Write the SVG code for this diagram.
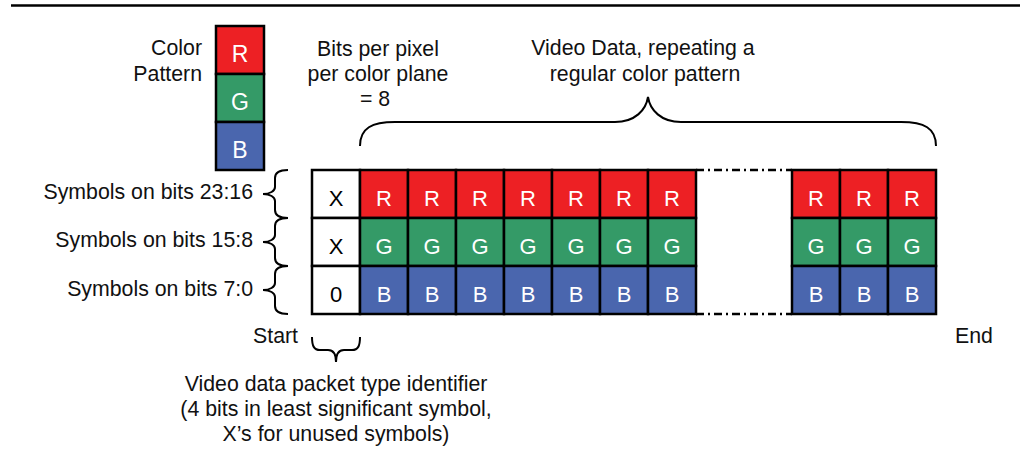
<svg xmlns="http://www.w3.org/2000/svg" width="1020" height="461" viewBox="0 0 1020 461">
<style>
text{font-family:"Liberation Sans",Arial,sans-serif;font-size:21.3px;fill:#111}
.c{stroke:#000;stroke-width:2.5}
.r{fill:#ED2024}
.g{fill:#349A67}
.b{fill:#4A66AE}
.w{fill:#fff}
.lt{fill:#fff;text-anchor:middle;font-size:22px}
.lg{font-size:23px}
.bt{fill:#000;text-anchor:middle;font-size:22px}
.mid{text-anchor:middle}
.end{text-anchor:end}
.br{fill:none;stroke:#000;stroke-width:2}
.dd{fill:none;stroke:#000;stroke-width:2.5;stroke-dasharray:8,4,2,4}
</style>
<line x1="11" y1="5.5" x2="1020" y2="5.5" stroke="#000" stroke-width="2.5"/>
<g id="legend">
<text class="end" x="202" y="55">Color</text>
<text class="end" x="202" y="81">Pattern</text>
<rect class="c r" x="216" y="26" width="48" height="48"/>
<rect class="c g" x="216" y="74" width="48" height="48"/>
<rect class="c b" x="216" y="122" width="48" height="48"/>
<text class="lt lg" x="240" y="62">R</text>
<text class="lt lg" x="240" y="110">G</text>
<text class="lt lg" x="240" y="158">B</text>
</g>
<g id="bpp-label">
<text class="mid" x="378" y="56">Bits per pixel</text>
<text class="mid" x="378" y="81">per color plane</text>
<text class="mid" x="375" y="106">= 8</text>
</g>
<g id="video-label">
<text class="mid" x="643" y="55">Video Data, repeating a</text>
<text class="mid" x="645" y="81">regular color pattern</text>
</g>
<g id="row-labels">
<text class="end" x="253" y="199">Symbols on bits 23:16</text>
<text class="end" x="253" y="247">Symbols on bits 15:8</text>
<text class="end" x="253" y="296">Symbols on bits 7:0</text>
</g>
<g id="start-end">
<text class="end" x="298" y="343">Start</text>
<text x="955" y="343">End</text>
</g>
<g id="id-label">
<text class="mid" x="336" y="391">Video data packet type identifier</text>
<text class="mid" x="336" y="416">(4 bits in least significant symbol,</text>
<text class="mid" x="336" y="441">X’s for unused symbols)</text>
</g>
<g id="header-column">
<rect class="c w" x="312" y="170" width="48" height="48"/>
<rect class="c w" x="312" y="218" width="48" height="48"/>
<rect class="c w" x="312" y="266" width="48" height="48"/>
<text class="bt" x="336" y="206">X</text>
<text class="bt" x="336" y="254">X</text>
<text class="bt" x="336" y="302">0</text>
</g>
<g id="pixels-left">
<rect class="c r" x="360" y="170" width="48" height="48"/><rect class="c g" x="360" y="218" width="48" height="48"/><rect class="c b" x="360" y="266" width="48" height="48"/>
<rect class="c r" x="408" y="170" width="48" height="48"/><rect class="c g" x="408" y="218" width="48" height="48"/><rect class="c b" x="408" y="266" width="48" height="48"/>
<rect class="c r" x="456" y="170" width="48" height="48"/><rect class="c g" x="456" y="218" width="48" height="48"/><rect class="c b" x="456" y="266" width="48" height="48"/>
<rect class="c r" x="504" y="170" width="48" height="48"/><rect class="c g" x="504" y="218" width="48" height="48"/><rect class="c b" x="504" y="266" width="48" height="48"/>
<rect class="c r" x="552" y="170" width="48" height="48"/><rect class="c g" x="552" y="218" width="48" height="48"/><rect class="c b" x="552" y="266" width="48" height="48"/>
<rect class="c r" x="600" y="170" width="48" height="48"/><rect class="c g" x="600" y="218" width="48" height="48"/><rect class="c b" x="600" y="266" width="48" height="48"/>
<rect class="c r" x="648" y="170" width="48" height="48"/><rect class="c g" x="648" y="218" width="48" height="48"/><rect class="c b" x="648" y="266" width="48" height="48"/>
<text class="lt" x="384" y="206">R</text><text class="lt" x="432" y="206">R</text><text class="lt" x="480" y="206">R</text><text class="lt" x="528" y="206">R</text><text class="lt" x="576" y="206">R</text><text class="lt" x="624" y="206">R</text><text class="lt" x="672" y="206">R</text>
<text class="lt" x="384" y="254">G</text><text class="lt" x="432" y="254">G</text><text class="lt" x="480" y="254">G</text><text class="lt" x="528" y="254">G</text><text class="lt" x="576" y="254">G</text><text class="lt" x="624" y="254">G</text><text class="lt" x="672" y="254">G</text>
<text class="lt" x="384" y="302">B</text><text class="lt" x="432" y="302">B</text><text class="lt" x="480" y="302">B</text><text class="lt" x="528" y="302">B</text><text class="lt" x="576" y="302">B</text><text class="lt" x="624" y="302">B</text><text class="lt" x="672" y="302">B</text>
</g>
<g id="pixels-right">
<rect class="c r" x="792" y="170" width="48" height="48"/><rect class="c g" x="792" y="218" width="48" height="48"/><rect class="c b" x="792" y="266" width="48" height="48"/>
<rect class="c r" x="840" y="170" width="48" height="48"/><rect class="c g" x="840" y="218" width="48" height="48"/><rect class="c b" x="840" y="266" width="48" height="48"/>
<rect class="c r" x="888" y="170" width="48" height="48"/><rect class="c g" x="888" y="218" width="48" height="48"/><rect class="c b" x="888" y="266" width="48" height="48"/>
<text class="lt" x="816" y="206">R</text><text class="lt" x="864" y="206">R</text><text class="lt" x="912" y="206">R</text>
<text class="lt" x="816" y="254">G</text><text class="lt" x="864" y="254">G</text><text class="lt" x="912" y="254">G</text>
<text class="lt" x="816" y="302">B</text><text class="lt" x="864" y="302">B</text><text class="lt" x="912" y="302">B</text>
</g>
<g id="connectors">
<line class="dd" x1="696" y1="170" x2="792" y2="170"/>
<line class="dd" x1="696" y1="314" x2="792" y2="314"/>
<path class="br" d="M288,170 C280,170 275,172 275,178 L275,187 C275,191 270,194 263,194 C270,194 275,197 275,201 L275,210 C275,216 280,218 288,218"/>
<path class="br" d="M288,218 C280,218 275,220 275,226 L275,235 C275,239 270,242 263,242 C270,242 275,245 275,249 L275,258 C275,264 280,266 288,266"/>
<path class="br" d="M288,266 C280,266 275,268 275,274 L275,283 C275,287 270,290 263,290 C270,290 275,293 275,297 L275,306 C275,312 280,314 288,314"/>
<path class="br" d="M360,146 C360,128 372,122 395,122 L615,122 C635,122 646,110 648,97 C650,110 661,122 681,122 L901,122 C924,122 936,128 936,146"/>
<path class="br" d="M312,337 C312,346 314,350 320,350 L328,350 C333,350 336,354 336,362 C336,354 339,350 344,350 L352,350 C358,350 360,346 360,337"/>
</g>
</svg>
